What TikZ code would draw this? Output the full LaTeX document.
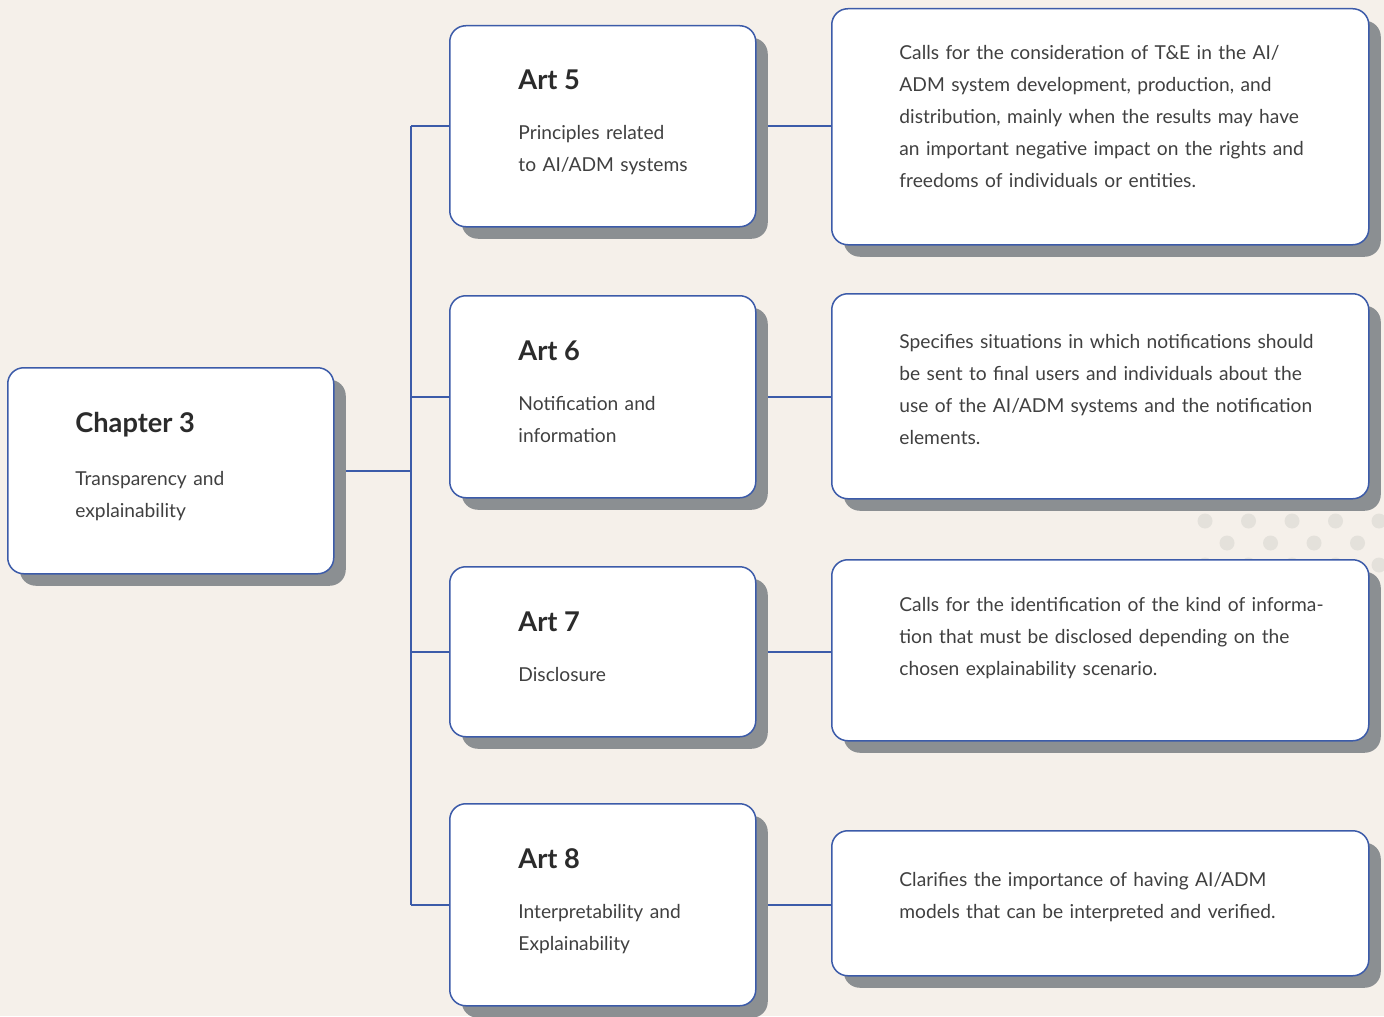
\documentclass[tikz,border=0pt]{standalone}
\usepackage{fontspec}
\setmainfont{Lato}
\usetikzlibrary{calc,shadows}
\definecolor{paper}{HTML}{F5F0EA}
\definecolor{cardblue}{HTML}{3C5BA9}
\definecolor{shadowgray}{HTML}{8B8F92}
\definecolor{dotgray}{HTML}{E4E1DB}
\definecolor{ink}{HTML}{2B2B2B}
\pgfdeclarelayer{paperlayer}
\pgfdeclarelayer{links}
\pgfsetlayers{paperlayer,links,main}
\tikzset{
    card/.style={draw=cardblue, line width=0.75pt, fill=white, rounded corners=8pt,
        anchor=north west, inner sep=0pt,
        drop shadow={shadow xshift=6pt, shadow yshift=-6pt, fill=shadowgray, opacity=1}},
    artcard/.style={card, minimum width=153pt},
    desccard/.style={card, minimum width=268.5pt},
    head/.style={anchor=base west, inner sep=0pt, text=ink, font=\fontsize{13.6}{16}\selectfont\bfseries},
    body/.style={anchor=base west, inner sep=0pt, text=ink!90, align=left, text width=260pt,
        font=\fontsize{9.6}{16}\selectfont},
    link/.style={draw=cardblue, line width=0.75pt}
}
\begin{document}
\begin{tikzpicture}[x=0.5pt,y=-0.5pt]
\useasboundingbox (0,0) rectangle (1384,1016);
\begin{pgfonlayer}{paperlayer}
    \fill[paper] (0,0) rectangle (1384,1016);
    % dots behind the third card
    \foreach \y/\s in {521/0,543/1,565/0} {
        \foreach \i in {0,...,4} {
            \fill[dotgray] (1205+\s*22+\i*43.5,\y) circle (7.5);
        }
    }
\end{pgfonlayer}

% chapter
\node[card, minimum width=163pt, minimum height=103pt] (chap) at (7,367) {};
\node[head] (chapH) at ($(chap.north west)+(68,65)$) {Chapter 3};
\node[body] (chapB) at ($(chap.north west)+(68,118)$) {Transparency and\\explainability};

% articles
\node[artcard, minimum height=100.5pt] (a5) at (449,25) {};
\node[artcard, minimum height=101pt] (a6) at (449,295) {};
\node[artcard, minimum height=85pt] (a7) at (449,566) {};
\node[artcard, minimum height=101pt] (a8) at (449,803) {};

\node[head] (a5H) at ($(a5.north west)+(69,65)$) {Art 5};
\node[body] (a5B) at ($(a5.north west)+(69,115)$) {Principles related\\to AI/ADM systems};
\node[head] (a6H) at ($(a6.north west)+(69,65)$) {Art 6};
\node[body] (a6B) at ($(a6.north west)+(69,115)$) {Notification and\\information};
\node[head] (a7H) at ($(a7.north west)+(69,65)$) {Art 7};
\node[body] (a7B) at ($(a7.north west)+(69,115)$) {Disclosure};
\node[head] (a8H) at ($(a8.north west)+(69,65)$) {Art 8};
\node[body] (a8B) at ($(a8.north west)+(69,115)$) {Interpretability and\\Explainability};

% descriptions
\node[desccard, minimum height=118pt] (d5) at (831,8) {};
\node[desccard, minimum height=102.5pt] (d6) at (831,293) {};
\node[desccard, minimum height=90.5pt] (d7) at (831,559) {};
\node[desccard, minimum height=72.5pt] (d8) at (831,830) {};

\node[body] (d5B) at ($(d5.north west)+(68,52)$) {Calls for the consideration of T\&E in the AI/\\ADM system development, production, and\\distribution, mainly when the results may have\\an important negative impact on the rights and\\freedoms of individuals or entities.};
\node[body] (d6B) at ($(d6.north west)+(68,55)$) {Specifies situations in which notifications should\\be sent to final users and individuals about the\\use of the AI/ADM systems and the notification\\elements.};
\node[body] (d7B) at ($(d7.north west)+(68,52)$) {Calls for the identification of the kind of informa-\\tion that must be disclosed depending on the\\chosen explainability scenario.};
\node[body] (d8B) at ($(d8.north west)+(68,56)$) {Clarifies the importance of having AI/ADM\\models that can be interpreted and verified.};

% connectors
\coordinate (trunk) at (411,0);
\begin{pgfonlayer}{links}
    \draw[link] (chap.east) -- (chap.east -| trunk);
    \draw[link] (a5.west -| trunk) -- (a8.west -| trunk);
    \foreach \n/\d in {a5/d5,a6/d6,a7/d7,a8/d8} {
        \draw[link] (\n.west -| trunk) -- (\n.west);
        \draw[link] (\n.east) -- (\n.east -| \d.west);
    }
\end{pgfonlayer}

\end{tikzpicture}
\end{document}
